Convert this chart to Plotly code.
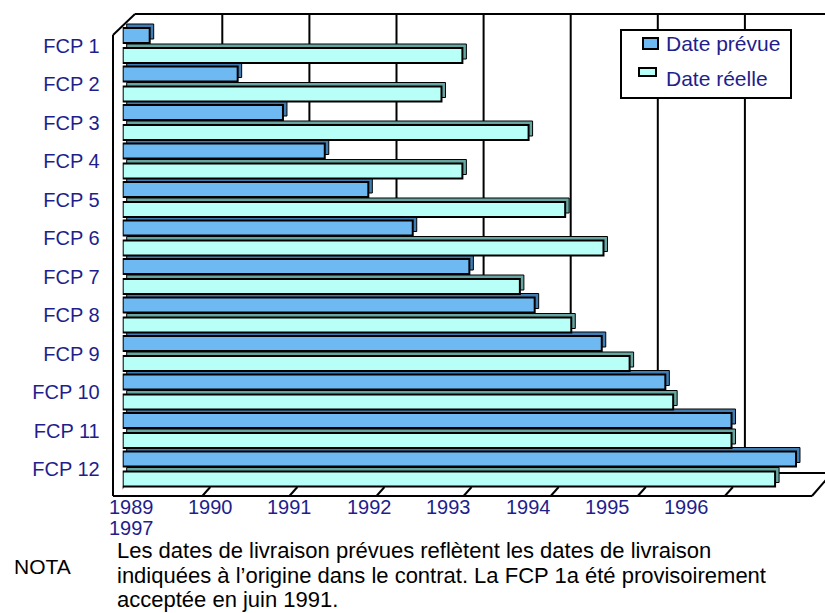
import plotly.graph_objects as go

# ---------------- data ----------------
categories = ["FCP 1", "FCP 2", "FCP 3", "FCP 4", "FCP 5", "FCP 6",
              "FCP 7", "FCP 8", "FCP 9", "FCP 10", "FCP 11", "FCP 12"]
date_prevue = [1989.31, 1990.32, 1990.84, 1991.32, 1991.82, 1992.33,
               1992.98, 1993.73, 1994.50, 1995.23, 1995.99, 1996.73]
date_reelle = [1992.90, 1992.66, 1993.66, 1992.90, 1994.08, 1994.52,
               1993.56, 1994.15, 1994.82, 1995.32, 1995.99, 1996.49]
year_labels = ["1989", "1990", "1991", "1992", "1993", "1994", "1995", "1996"]
year_last = "1997"
series_names = ["Date prévue", "Date réelle"]
nota_label = "NOTA"
nota_lines = ["Les dates de livraison prévues reflètent les dates de livraison",
              "indiquées à l’origine dans le contrat. La FCP 1a été provisoirement",
              "acceptée en juin 1991."]
X_MIN, X_MAX = 1989, 1997

# ---------------- geometry / style ----------------
W, H = 825, 613
def px(x): return x / W
def py(y): return 1 - y / H

X0_PX, X1_PX = 122.7, 819.5          # bar plane: 1989 .. 1997
PX_PER_YR = (X1_PX - X0_PX) / (X_MAX - X_MIN)
CAT0_PX, CAT_STEP = 45.5, 38.5       # category centre and spacing
Y_TOP_CAT, Y_BOT_CAT = -0.6, 11.5
DEPTH_PX = 4.0
BACK_DX = 12.5                       # back wall shift in px
FRONT_DX = -7.5                      # front floor edge shift in px
WALL_TOP, FLOOR_BACK, FLOOR_FRONT = 14, 473, 496
LEFT_FRONT_X, LEFT_BACK_X = 113, 135

FONT = "Liberation Sans, Arial, sans-serif"
NAVY = "#1E1E8C"
C_PREV, C_PREV_SIDE = "#6EB9F1", "#3F7DB2"
C_REEL, C_REEL_SIDE = "#B8FFF8", "#66A6A2"

bar_w = 15 / CAT_STEP
off_prev = -17.5 / CAT_STEP
off_reel = 2.5 / CAT_STEP
dy = DEPTH_PX / CAT_STEP
dx = DEPTH_PX / PX_PER_YR

fig = go.Figure()

# depth (top + right faces) drawn first
for vals, off, side in [(date_prevue, off_prev, C_PREV_SIDE), (date_reelle, off_reel, C_REEL_SIDE)]:
    fig.add_trace(go.Bar(y=categories, x=[v - X_MIN for v in vals], base=X_MIN + dx, orientation="h",
                         offset=off - dy, width=bar_w,
                         marker=dict(color=side, line=dict(color="#000", width=1)),
                         showlegend=False, hoverinfo="skip"))
# front faces
for vals, off, col, name in [(date_prevue, off_prev, C_PREV, series_names[0]),
                             (date_reelle, off_reel, C_REEL, series_names[1])]:
    fig.add_trace(go.Bar(y=categories, x=[v - X_MIN for v in vals], base=X_MIN, orientation="h",
                         offset=off, width=bar_w, name=name,
                         marker=dict(color=col, line=dict(color="#000", width=2)),
                         showlegend=False))

shapes = []
LW = 2
# back wall gridlines
for yr in range(X_MIN + 1, X_MAX):
    shapes.append(dict(type="line", xref="x", xsizemode="pixel", xanchor=yr, x0=BACK_DX, x1=BACK_DX,
                       yref="paper", y0=py(FLOOR_BACK), y1=py(WALL_TOP),
                       line=dict(color="#000", width=LW), layer="below"))
right_back = X1_PX + BACK_DX
right_front = X1_PX + FRONT_DX
shapes.append(dict(type="line", xref="paper", yref="paper", x0=px(LEFT_BACK_X), x1=px(right_back + 10),
                   y0=py(WALL_TOP), y1=py(WALL_TOP), line=dict(color="#000", width=LW)))
shapes.append(dict(type="line", xref="paper", yref="paper", x0=px(LEFT_BACK_X), x1=px(right_back),
                   y0=py(FLOOR_BACK), y1=py(FLOOR_BACK), line=dict(color="#000", width=LW), layer="below"))
shapes.append(dict(type="line", xref="paper", yref="paper", x0=px(LEFT_BACK_X), x1=px(LEFT_FRONT_X),
                   y0=py(WALL_TOP), y1=py(WALL_TOP + 21), line=dict(color="#000", width=LW)))
shapes.append(dict(type="line", xref="paper", yref="paper", x0=px(LEFT_FRONT_X), x1=px(LEFT_FRONT_X),
                   y0=py(WALL_TOP + 21), y1=py(FLOOR_FRONT), line=dict(color="#000", width=LW)))
shapes.append(dict(type="line", xref="paper", yref="paper", x0=px(LEFT_FRONT_X), x1=px(right_front),
                   y0=py(FLOOR_FRONT), y1=py(FLOOR_FRONT), line=dict(color="#000", width=LW)))
shapes.append(dict(type="line", xref="paper", yref="paper", x0=px(right_front), x1=px(right_back),
                   y0=py(FLOOR_FRONT), y1=py(FLOOR_BACK), line=dict(color="#000", width=LW)))
for yr in range(X_MIN, X_MAX):
    shapes.append(dict(type="line", xref="x", xsizemode="pixel", xanchor=yr, x0=FRONT_DX, x1=FRONT_DX + 8,
                       yref="paper", y0=py(FLOOR_FRONT), y1=py(FLOOR_FRONT - 9),
                       line=dict(color="#000", width=LW)))

# legend box (manual)
shapes.append(dict(type="rect", xref="paper", yref="paper", x0=px(621), x1=px(791), y0=py(30), y1=py(98),
                   fillcolor="white", line=dict(color="#000", width=2)))
shapes.append(dict(type="rect", xref="paper", yref="paper", x0=px(643), x1=px(658), y0=py(38), y1=py(49),
                   fillcolor=C_PREV, line=dict(color="#000", width=2)))
shapes.append(dict(type="rect", xref="paper", yref="paper", x0=px(639), x1=px(656), y0=py(68), y1=py(76),
                   fillcolor=C_REEL, line=dict(color="#000", width=2)))

annotations = []
for name, yc in zip(series_names, [44, 78]):
    annotations.append(dict(text=name, x=px(664), y=py(yc), xref="paper", yref="paper",
                            xanchor="left", yanchor="middle", showarrow=False,
                            font=dict(family=FONT, size=21, color=NAVY)))
for i, lab in enumerate(year_labels):
    annotations.append(dict(text=lab, x=px(131 + 79.4 * i), y=py(507), xref="paper", yref="paper",
                            xanchor="center", yanchor="middle", showarrow=False, borderpad=0,
                            font=dict(family=FONT, size=20, color=NAVY)))
annotations.append(dict(text=year_last, x=px(131), y=py(528), xref="paper", yref="paper",
                        xanchor="center", yanchor="middle", showarrow=False, borderpad=0,
                        font=dict(family=FONT, size=20, color=NAVY)))
annotations.append(dict(text=nota_label, x=px(12), y=py(566), xref="paper", yref="paper",
                        xanchor="left", yanchor="middle", showarrow=False,
                        font=dict(family=FONT, size=21, color="#000")))
for line, yc in zip(nota_lines, [550.5, 575, 599.5]):
    annotations.append(dict(text=line, x=px(116), y=py(yc), xref="paper", yref="paper",
                            xanchor="left", yanchor="middle", showarrow=False, borderpad=0,
                            font=dict(family=FONT, size=22, color="#000")))

fig.update_layout(
    width=W, height=H, margin=dict(l=0, r=0, t=0, b=0),
    paper_bgcolor="white", plot_bgcolor="rgba(0,0,0,0)",
    barmode="overlay", showlegend=False,
    xaxis=dict(domain=[px(X0_PX), px(X1_PX)], range=[X_MIN, X_MAX], showgrid=False, zeroline=False,
               showline=False, showticklabels=False, ticks=""),
    yaxis=dict(domain=[py(CAT0_PX + Y_BOT_CAT * CAT_STEP), py(CAT0_PX + Y_TOP_CAT * CAT_STEP)],
               range=[Y_BOT_CAT, Y_TOP_CAT], type="category", categoryorder="array", categoryarray=categories,
               showgrid=False, zeroline=False, showline=False, ticks="outside", ticklen=18,
               tickcolor="rgba(0,0,0,0)", tickfont=dict(family=FONT, size=20, color=NAVY)),
    shapes=shapes, annotations=annotations,
)

fig.write_html("out.html", config={"displayModeBar": False},
               post_script="document.body.style.margin='0px';document.body.style.overflow='hidden';")
